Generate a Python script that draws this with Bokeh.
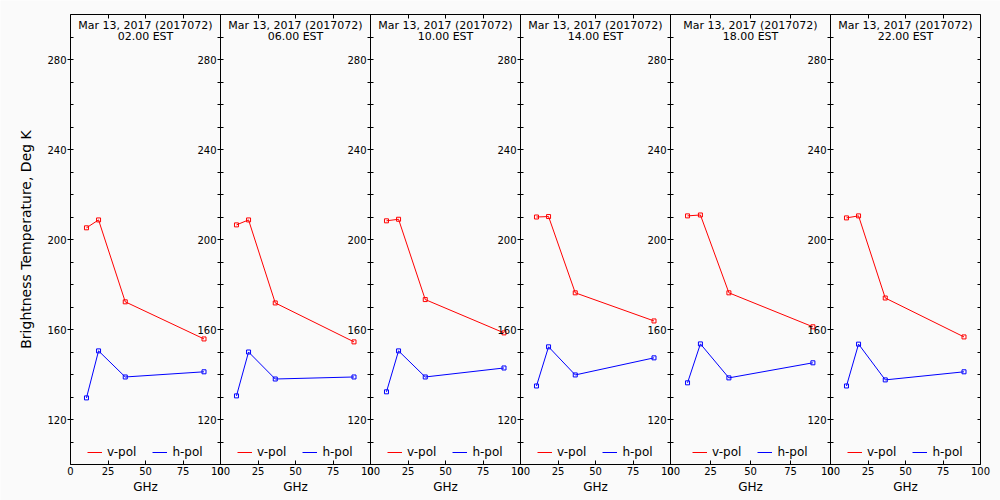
from bokeh.plotting import figure
from bokeh.models import LinearAxis, Range1d, FixedTicker, Legend, LegendItem, Label
from bokeh.embed import file_html
from bokeh.resources import INLINE

# ---------------- data ----------------
freqs_ghz = [10.65, 18.7, 36.5, 89.0]
date_text = "Mar 13, 2017 (2017072)"
time_labels = ["02.00 EST", "06.00 EST", "10.00 EST", "14.00 EST", "18.00 EST", "22.00 EST"]

vpol_0200 = [205.2, 208.7, 172.3, 155.8]
vpol_0600 = [206.5, 208.7, 171.8, 154.5]
vpol_1000 = [208.3, 209.0, 173.3, 158.5]
vpol_1400 = [210.0, 210.2, 176.3, 163.8]
vpol_1800 = [210.5, 210.9, 176.3, 161.2]
vpol_2200 = [209.6, 210.5, 174.0, 156.7]

hpol_0200 = [129.6, 150.5, 138.9, 141.2]
hpol_0600 = [130.5, 150.0, 138.0, 138.9]
hpol_1000 = [132.3, 150.5, 138.9, 142.9]
hpol_1400 = [134.9, 152.3, 139.8, 147.4]
hpol_1800 = [136.3, 153.6, 138.5, 145.2]
hpol_2200 = [134.9, 153.5, 137.6, 141.2]

vpol_series = [vpol_0200, vpol_0600, vpol_1000, vpol_1400, vpol_1800, vpol_2200]
hpol_series = [hpol_0200, hpol_0600, hpol_1000, hpol_1400, hpol_1800, hpol_2200]

x_ticks = [0, 25, 50, 75, 100]
x_top_ticks = [25, 50, 75]
y_ticks = [120, 160, 200, 240, 280]
y_minor_ticks = [100, 110, 130, 140, 150, 170, 180, 190, 210, 220, 230, 250, 260, 270, 290, 300]
x_lim = (0, 100)
y_lim = (100, 300)

# ---------------- style / layout ----------------
FONT = "DejaVu Sans"
BG = "#fafafa"
V_COLOR = "#ff0000"
H_COLOR = "#0000ff"
W, H = 1000, 500
PANEL_LEFT = 70
PANEL_TOP, PANEL_BOTTOM = 14, 464
panel_widths = [150, 150, 150, 150, 160, 150]

px_per_y = (PANEL_BOTTOM - PANEL_TOP) / (y_lim[1] - y_lim[0])
y_range = Range1d(y_lim[0] - (H - PANEL_BOTTOM) / px_per_y, y_lim[1] + PANEL_TOP / px_per_y)

p = figure(width=W, height=H, x_range=Range1d(0, W), y_range=y_range,
           x_axis_location=None, y_axis_location=None,
           min_border_left=0, min_border_right=0, min_border_top=0, min_border_bottom=0,
           output_backend="svg", toolbar_location=None,
           background_fill_color=BG, border_fill_color=BG, outline_line_color=None)
p.xgrid.visible = False
p.ygrid.visible = False

ranges = {}
lefts = []
L = PANEL_LEFT
for k, w in enumerate(panel_widths):
    upx = (x_lim[1] - x_lim[0]) / w
    ranges[f"p{k}"] = Range1d(x_lim[0] - L * upx, x_lim[0] + (W - L) * upx)
    lefts.append(L)
    L += w
p.extra_x_ranges = ranges


def style_axis(ax, show_labels=True):
    ax.axis_line_color = "black"
    ax.major_tick_line_color = "black"
    ax.minor_tick_line_color = "black"
    ax.major_label_text_font = FONT
    ax.major_label_text_font_size = "10px"
    ax.major_label_text_color = "black" if show_labels else None
    ax.axis_label_text_font = FONT
    ax.axis_label_text_font_style = "normal"
    ax.axis_label_text_color = "black"


for k in range(6):
    rn = f"p{k}"
    w = panel_widths[k]

    # bottom axis
    bx = LinearAxis(x_range_name=rn, fixed_location=y_lim[0], bounds=x_lim,
                    ticker=FixedTicker(ticks=x_ticks, minor_ticks=[]),
                    major_tick_in=4, major_tick_out=0, minor_tick_in=0, minor_tick_out=0,
                    major_label_standoff=2, axis_label="GHz", axis_label_standoff=2)
    style_axis(bx)
    bx.axis_label_text_font_size = "12px"
    p.add_layout(bx, "below")

    # top axis (ticks only)
    tx = LinearAxis(x_range_name=rn, fixed_location=y_lim[1], bounds=x_lim,
                    ticker=FixedTicker(ticks=x_top_ticks, minor_ticks=[]),
                    major_tick_in=4, major_tick_out=0, minor_tick_in=0, minor_tick_out=0,
                    major_label_standoff=0)
    style_axis(tx, show_labels=False)
    p.add_layout(tx, "above")

    # left axis of this panel (labels sit left of the panel edge)
    ly = LinearAxis(x_range_name=rn, fixed_location=x_lim[0], bounds=y_lim,
                    ticker=FixedTicker(ticks=y_ticks, minor_ticks=y_minor_ticks),
                    major_tick_in=3, major_tick_out=3,
                    minor_tick_in=3, minor_tick_out=0 if k == 0 else 3,
                    major_label_standoff=1)
    style_axis(ly)
    if k == 0:
        ly.axis_label = "Brightness Temperature, Deg K"
        ly.axis_label_text_font_size = "14px"
        ly.axis_label_standoff = 10
    p.add_layout(ly, "left")

    # panel title inside the frame top
    p.add_layout(Label(x=50, y=y_lim[1], x_range_name=rn, text=date_text,
                       text_align="center", text_baseline="top", y_offset=-4,
                       text_font=FONT, text_font_size="11px", text_color="black"))
    p.add_layout(Label(x=50, y=y_lim[1], x_range_name=rn, text=time_labels[k],
                       text_align="center", text_baseline="top", y_offset=-15,
                       text_font=FONT, text_font_size="11px", text_color="black"))

    # data
    vl = p.line(freqs_ghz, vpol_series[k], x_range_name=rn, line_color=V_COLOR, line_width=1)
    p.scatter(freqs_ghz, vpol_series[k], x_range_name=rn, marker="square", size=4,
              fill_color=None, line_color=V_COLOR, line_width=1)
    hl = p.line(freqs_ghz, hpol_series[k], x_range_name=rn, line_color=H_COLOR, line_width=1)
    p.scatter(freqs_ghz, hpol_series[k], x_range_name=rn, marker="square", size=4,
              fill_color=None, line_color=H_COLOR, line_width=1)

    legend_w = 116
    leg = Legend(items=[LegendItem(label="v-pol", renderers=[vl]),
                        LegendItem(label="h-pol", renderers=[hl])],
                 orientation="horizontal",
                 location=(lefts[k] + (w - legend_w) / 2.0, (H - PANEL_BOTTOM) + 5),
                 glyph_width=15, glyph_height=12, label_standoff=5, spacing=16,
                 padding=0, margin=0, border_line_color=None,
                 background_fill_alpha=0,
                 label_text_font=FONT, label_text_font_size="12px",
                 label_text_color="black")
    p.add_layout(leg, "center")

# right edge of last panel (ticks only)
ry = LinearAxis(x_range_name="p5", fixed_location=x_lim[1], bounds=y_lim,
                ticker=FixedTicker(ticks=y_ticks, minor_ticks=y_minor_ticks),
                major_tick_in=3, major_tick_out=0, minor_tick_in=3, minor_tick_out=0,
                major_label_standoff=0)
style_axis(ry, show_labels=False)
p.add_layout(ry, "right")

open("out.html", "w").write(file_html(p, INLINE))
